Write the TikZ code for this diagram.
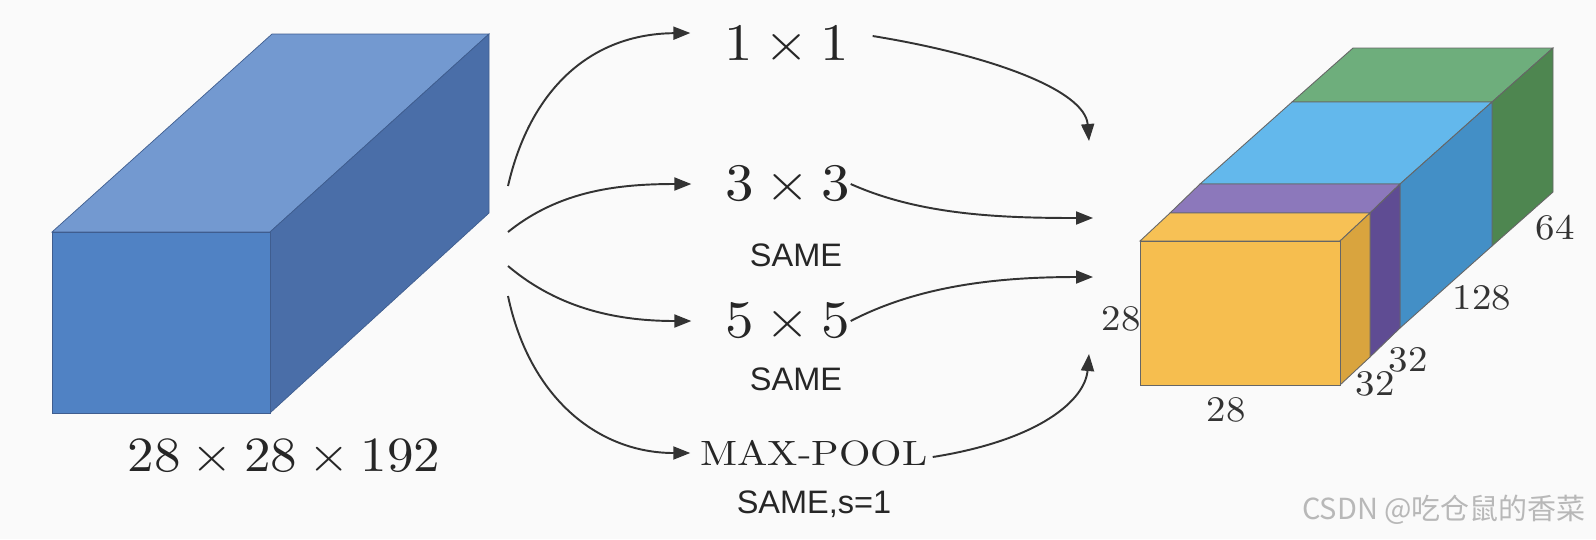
\documentclass[tikz,border=0pt]{standalone}
\usepackage{fontspec}
\usepackage{tikz}
\usetikzlibrary{arrows.meta}
\newfontfamily\sansf{Liberation Sans}
\newfontfamily\opfont{lmroman10-regular}[Extension=.otf, FakeStretch=1.08]
\newfontfamily\poolfont{lmroman10-regular}[Extension=.otf, FakeStretch=1.15]
\newfontfamily\cjk{Noto Sans CJK SC}
\newcommand{\by}{\hspace{0.222em}×\hspace{0.222em}}

\definecolor{inFront}{HTML}{5082C4}
\definecolor{inTop}{HTML}{7399D0}
\definecolor{inSide}{HTML}{4A6EA8}
\definecolor{yelTop}{HTML}{F7C155}
\definecolor{yelFront}{HTML}{F6BE4F}
\definecolor{yelSide}{HTML}{D9A43E}
\definecolor{purTop}{HTML}{8C78BB}
\definecolor{purSide}{HTML}{5F4C93}
\definecolor{bluTop}{HTML}{63B8EC}
\definecolor{bluSide}{HTML}{438FC6}
\definecolor{grnTop}{HTML}{6EAE7C}
\definecolor{grnSide}{HTML}{4E8650}

\tikzset{
  flow/.style={draw=black!80, line width=1.1pt, -{Triangle[length=0.34cm,width=0.26cm]}},
  op/.style={inner sep=0pt, text=black!85, font=\opfont\fontsize{30}{34}\selectfont},
  pad/.style={inner sep=0pt, text=black!85, font=\sansf\fontsize{18.5}{20}\selectfont},
  dim/.style={inner sep=0pt, text=black!80, font=\opfont\fontsize{20.5}{24}\selectfont},
  face/.style={draw=black!60, line width=0.5pt},
  inface/.style={draw=inSide!85!black, line width=0.4pt},
}

\begin{document}
\begin{tikzpicture}[x=0.02cm, y=-0.02cm]
  \useasboundingbox[fill=white!98!black] (0,0) rectangle (1596,539);

  % input volume
  \filldraw[inface, fill=inTop] (52,232) -- (272,34) -- (489,34) -- (270,232) -- cycle;
  \filldraw[inface, fill=inSide] (270,232) -- (489,34) -- (489,213) -- (270,413) -- cycle;
  \filldraw[inface, fill=inFront] (52,232) rectangle (270,413);
  \node (size) at (284,456) [op, font=\opfont\fontsize{28}{30}\selectfont] {28\by28\by192};

  % branches
  \node (n11) at (787,43) [op] {1\by1};
  \node (n33) at (788,184) [op] {3\by3};
  \node (s33) at (796,255) [pad] {SAME};
  \node (n55) at (788,321) [op] {5\by5};
  \node (s55) at (796,379) [pad] {SAME};
  \node (pool) at (814,453) [op, font=\poolfont\fontsize{20}{22}\selectfont] {MAX-POOL};
  \node (spool) at (814,504) [pad] {SAME,s=1};

  % free ends at the volumes
  \coordinate (a1) at (508,186);
  \coordinate (a2) at (508,232);
  \coordinate (a3) at (508,266);
  \coordinate (a4) at (508,296);
  \coordinate (b1) at (1089,141);
  \coordinate (b2) at (1093,218);
  \coordinate (b3) at (1093,277);
  \coordinate (b4) at (1089,354);

  \draw[flow] (a1) .. controls (530,90) and (590,34) .. ([xshift=-0.68cm,yshift=0.2cm]n11.west);
  \draw[flow] (a2) .. controls (560,190) and (620,184) .. ([xshift=-0.68cm]n33.west);
  \draw[flow] (a3) .. controls (560,310) and (620,321) .. ([xshift=-0.68cm]n55.west);
  \draw[flow] (a4) .. controls (530,400) and (600,453) .. ([xshift=-0.2cm]pool.west);

  \draw[flow] ([xshift=0.46cm,yshift=0.14cm]n11.east) .. controls (990,55) and (1085,90) .. (b1);
  \draw[flow] (n33.east) .. controls (920,215) and (1000,218) .. (b2);
  \draw[flow] (n55.east) .. controls (920,285) and (1000,277) .. (b3);
  \draw[flow] ([xshift=0.1cm,yshift=-0.08cm]pool.east) .. controls (1040,440) and (1085,400) .. (b4);

  % output volume
  \filldraw[face, fill=grnTop] (1292,102) -- (1353,48) -- (1553,48) -- (1492,102) -- cycle;
  \filldraw[face, fill=grnSide] (1492,102) -- (1553,48) -- (1553,192) -- (1492,246) -- cycle;
  \filldraw[face, fill=bluTop] (1200,184) -- (1292,102) -- (1492,102) -- (1400,184) -- cycle;
  \filldraw[face, fill=bluSide] (1400,184) -- (1492,102) -- (1492,246) -- (1400,328) -- cycle;
  \filldraw[face, fill=purTop] (1170,213) -- (1200,184) -- (1400,184) -- (1370,213) -- cycle;
  \filldraw[face, fill=purSide] (1370,213) -- (1400,184) -- (1400,328) -- (1370,357) -- cycle;
  \filldraw[face, fill=yelTop] (1140,241) -- (1170,213) -- (1370,213) -- (1340,241) -- cycle;
  \filldraw[face, fill=yelSide] (1340,241) -- (1370,213) -- (1370,357) -- (1340,385) -- cycle;
  \filldraw[face, fill=yelFront] (1140,241) rectangle (1340,385);

  \node (h28) at (1121,319) [dim] {28};
  \node (w28) at (1226,410) [dim] {28};
  \node (c32a) at (1375,384) [dim] {32};
  \node (c32b) at (1408,360) [dim] {32};
  \node (c128) at (1482,298) [dim] {128};
  \node (c64) at (1555,228) [dim] {64};

  \node (mark) at (1444,510) [inner sep=0pt, text=black!28, font=\cjk\fontsize{16.5}{18}\selectfont] {CSDN @吃仓鼠的香菜};
\end{tikzpicture}
\end{document}
